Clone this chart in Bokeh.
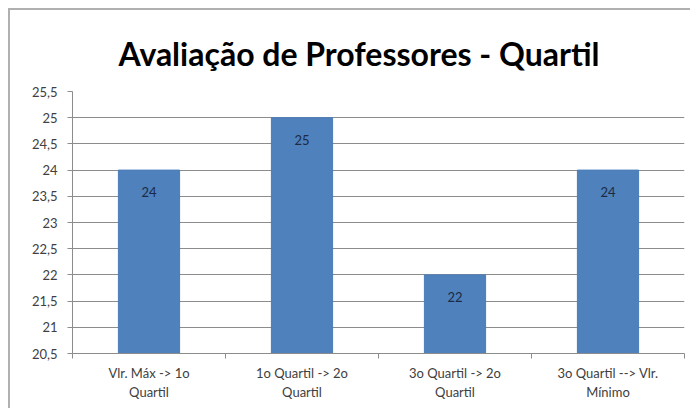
from bokeh.plotting import figure
from bokeh.models import FixedTicker, Range1d, ColumnDataSource, LabelSet
from bokeh.core.properties import value
from bokeh.embed import file_html
from bokeh.resources import INLINE

title = "Avaliação de Professores - Quartil"
categories = ["Vlr. Máx -> 1o\nQuartil", "1o Quartil -> 2o\nQuartil",
              "3o Quartil -> 2o\nQuartil", "3o Quartil --> Vlr.\nMínimo"]
values = [24, 25, 22, 24]
y_ticks = [20.5, 21, 21.5, 22, 22.5, 23, 23.5, 24, 24.5, 25, 25.5]
y_tick_labels = ["20,5", "21", "21,5", "22", "22,5", "23", "23,5", "24", "24,5", "25", "25,5"]

FONT = "Lato"
x_pos = [i + 0.5 for i in range(len(categories))]
src = ColumnDataSource(dict(x=x_pos, top=values, label=[str(v) for v in values]))

p = figure(width=682, height=400, output_backend="svg", toolbar_location=None,
           x_range=Range1d(0, len(categories)), y_range=Range1d(y_ticks[0], y_ticks[-1]),
           min_border_left=62, min_border_right=8, min_border_top=81, min_border_bottom=57)
p.styles = {"border-top": "2px solid #b0b0b0", "border-left": "2px solid #b0b0b0",
            "margin-left": "8px", "margin-top": "8px"}

p.title.text = title
p.title.align = "left"
p.title.text_font = FONT
p.title.text_font_size = "32px"
p.title.text_font_style = "bold"
p.title.text_color = "#000000"
p.title.offset = 46
p.title.standoff = 38

p.vbar(x="x", top="top", bottom=y_ticks[0], width=0.4, source=src,
       fill_color="#4f81bd", line_color="#4a7dba")
p.add_layout(LabelSet(x="x", y="top", text="label", source=src, y_offset=-22,
                      text_align="center", text_baseline="middle",
                      text_font=value(FONT), text_font_size=value("13px"),
                      text_color="#1c2a44"))

p.outline_line_color = None
p.xgrid.grid_line_color = None
p.ygrid.ticker = FixedTicker(ticks=y_ticks)
p.ygrid.grid_line_color = "#8c8c8c"
p.ygrid.grid_line_width = 1

p.yaxis.ticker = FixedTicker(ticks=y_ticks)
p.yaxis.major_label_overrides = {t: l for t, l in zip(y_ticks, y_tick_labels)}
p.yaxis.minor_tick_line_color = None
p.yaxis.major_tick_in = 0
p.yaxis.major_tick_out = 5
p.yaxis.axis_line_color = "#8c8c8c"
p.yaxis.major_tick_line_color = "#8c8c8c"
p.yaxis.major_label_standoff = 10
p.yaxis.major_label_text_font = FONT
p.yaxis.major_label_text_font_size = "13px"
p.yaxis.major_label_text_color = "#404040"

p.xaxis.ticker = FixedTicker(ticks=x_pos, minor_ticks=list(range(len(categories) + 1)))
p.xaxis.major_label_overrides = {x: c for x, c in zip(x_pos, categories)}
p.xaxis.major_tick_line_color = None
p.xaxis.minor_tick_in = 0
p.xaxis.minor_tick_out = 5
p.xaxis.minor_tick_line_color = "#8c8c8c"
p.xaxis.axis_line_color = "#8c8c8c"
p.xaxis.major_label_standoff = 5
p.xaxis.major_label_text_font = FONT
p.xaxis.major_label_text_font_size = "13px"
p.xaxis.major_label_text_color = "#404040"

open("out.html", "w").write(file_html(p, INLINE))
